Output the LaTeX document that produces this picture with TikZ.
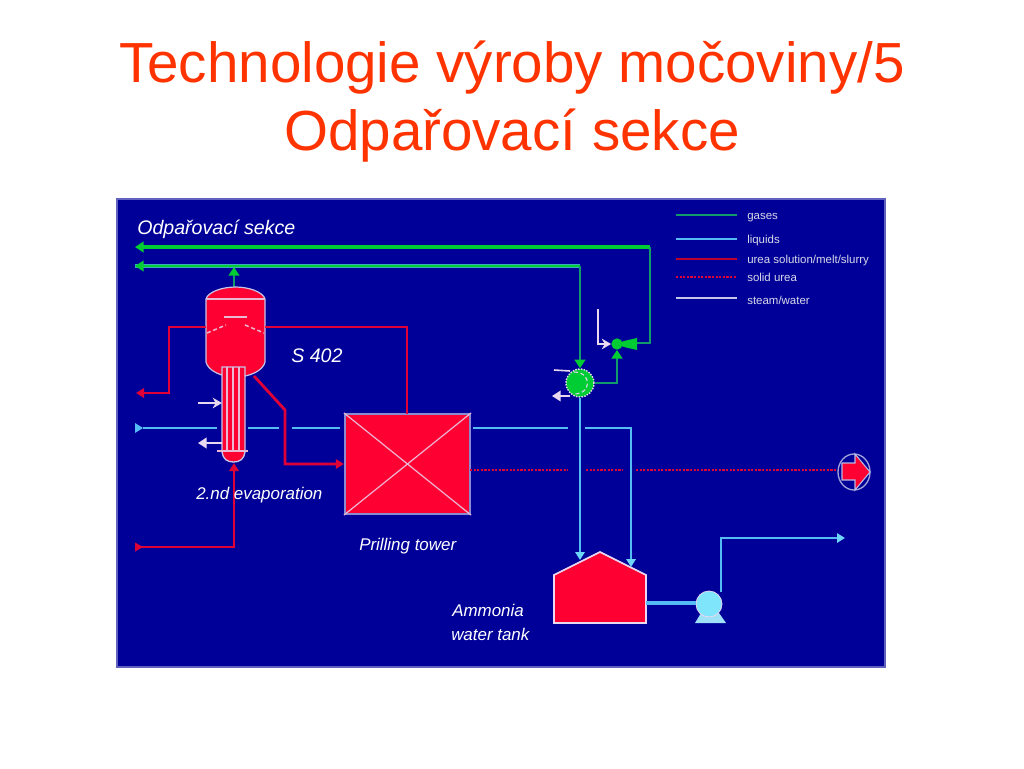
\documentclass[tikz,border=0pt]{standalone}
\usepackage{fontspec}
\setmainfont{Liberation Sans}
\usetikzlibrary{arrows.meta,shapes.geometric}
\definecolor{panelblue}{HTML}{000099}
\definecolor{titlered}{HTML}{FF3300}
\definecolor{fillred}{HTML}{FF0033}
\definecolor{linered}{HTML}{E00038}
\definecolor{liquidblue}{HTML}{55BBF5}
\definecolor{pumpcyan}{HTML}{7FE5FA}
\definecolor{gasgreen}{HTML}{00CC33}
\definecolor{gasteal}{HTML}{119A6A}
\definecolor{steamwhite}{HTML}{E8D8F0}
\definecolor{edgeblue}{HTML}{8A8AD0}
\definecolor{legendtext}{HTML}{D8D8E8}
\tikzset{
  titletext/.style={text=titlered,font=\fontsize{42.4}{42.4}\selectfont,anchor=base,inner sep=0pt},
  label/.style={text=white,font=\itshape\fontsize{12.7}{12.7}\selectfont,anchor=base west,inner sep=0pt},
  biglabel/.style={label,font=\itshape\fontsize{14.7}{14.7}\selectfont},
  legendlabel/.style={text=legendtext,font=\fontsize{8.6}{8.6}\selectfont,anchor=base west,inner sep=0pt},
  gasthick/.style={draw=gasgreen,line width=2.5pt},
  gasthin/.style={draw=gasteal,line width=1.7pt},
  liquid/.style={draw=liquidblue,line width=2pt},
  urea/.style={draw=linered,line width=2.1pt},
  solidurea/.style={draw=linered,line width=1.1pt,dash pattern=on 1.6pt off 1.1pt},
  steam/.style={draw=steamwhite,line width=1.6pt},
  inner/.style={draw=steamwhite!85!fillred,line width=1.1pt},
  tipG/.style={-{Triangle[length=6.5pt,width=8pt,fill=gasgreen,color=gasgreen]}},
  tipL/.style={-{Triangle[length=6pt,width=7pt,fill=pumpcyan!60!liquidblue,color=pumpcyan!60!liquidblue]}},
  tipR/.style={-{Triangle[length=6pt,width=7pt,fill=linered,color=linered]}},
  tipS/.style={-{Triangle[length=6.5pt,width=8pt,fill=steamwhite,color=steamwhite]}},
  tipOpen/.style={-{Stealth[length=7pt,width=8pt,color=steamwhite]}},
  towerbox/.style={rectangle,draw=edgeblue,fill=fillred,line width=1.6pt,minimum width=93.75pt,minimum height=75pt,inner sep=0pt},
  coolercirc/.style={circle,draw=steamwhite,densely dotted,fill=gasgreen,line width=1.1pt,minimum size=21pt,inner sep=0pt},
  valvebody/.style={circle,fill=gasgreen,minimum size=8.5pt,inner sep=0pt},
  pumpcirc/.style={circle,fill=pumpcyan,draw=steamwhite,line width=.6pt,minimum size=19.5pt,inner sep=0pt},
  exitell/.style={ellipse,draw=edgeblue!80!white,fill=panelblue,line width=1pt,minimum width=24pt,minimum height=27pt,inner sep=0pt},
}
\begin{document}
\begin{tikzpicture}[x=0.75pt,y=-0.75pt]
\useasboundingbox (0,0) rectangle (1024,768);
\fill[white] (0,0) rectangle (1024,768);
\node[titletext] (title1) at (512,82) {Technologie výroby močoviny/5};
\node[titletext] (title2) at (512,150) {Odpařovací sekce};
\draw[fill=panelblue,draw=edgeblue!70!panelblue,line width=.8pt] (117,199) rectangle (885,667);

% named points
\coordinate (gasEndA) at (135,247);
\coordinate (gasEndB) at (135,266);
\coordinate (gasCorA) at (650,247);
\coordinate (gasCorB) at (650,343);
\coordinate (gasCorC) at (580,266);
\coordinate (vesselTop) at (234,287);
\coordinate (vesselOut) at (234,267);

% gas lines
\draw[gasthin,tipG] (vesselTop) -- (vesselOut);
\draw[gasthick,tipG] (gasCorA) -- (gasEndA);
\draw[draw=liquidblue!60!gasteal,line width=2.4pt] (gasCorC) -- (gasEndB);
\draw[gasgreen,line width=1.3pt,tipG] (gasCorC) -- (gasEndB);
\draw[gasthin] (gasCorA) -- (gasCorB) -- (637,343);

% vessel S 402
\path[fill=fillred,draw=edgeblue!50!white,line width=.9pt] (206,299) .. controls (208,292) and (222,287) .. (235.5,287) .. controls (249,287) and (263,292) .. (265,299) -- (265,362) .. controls (263,371) and (249,377) .. (235.5,377) .. controls (222,377) and (208,371) .. (206,362) -- cycle;
\draw[inner] (206,299) -- (265,299);
\draw[inner] (224,317) -- (247,317);
\draw[inner,densely dashed] (207,333) -- (226,325);
\draw[inner,densely dashed] (245,325) -- (264,333);
\coordinate (vesselL) at (206,327);
\coordinate (vesselR) at (265,327);
\coordinate (vesselB) at (254,376);

% tube bundle
\path[fill=fillred,draw=edgeblue!50!white,line width=1pt] (222,367) -- (245,367) -- (245,452) .. controls (244,459) and (240,462) .. (233.5,462) .. controls (227,462) and (223,459) .. (222,452) -- cycle;
\foreach \tx in {227,233,239} \draw[inner] (\tx,367) -- (\tx,451);
\draw[inner] (217,451) -- (248,451);
\coordinate (tubeBottom) at (234,463);

% towers and other nodes
\node[towerbox] (tower) at (407.5,464) {};
\draw[inner,line width=.9pt] (tower.north west) -- (tower.south east);
\draw[inner,line width=.9pt] (tower.north east) -- (tower.south west);

% urea lines
\coordinate (ureaOutL) at (136,393);
\coordinate (ureaInB) at (136,547);
\draw[urea,tipR] (vesselL) -- (169,327) -- (169,393) -- (ureaOutL);
\draw[urea] (vesselR) -- (407,327) -- (407,414);
\draw[urea,tipR] (vesselB) -- (285,410) -- (285,464) -- (tower.west |- 0,464);
\draw[urea,tipR] (ureaInB) ++(5,0) -- (234,547) -- (tubeBottom);
\fill[linered] (ureaInB) ++(7,0) -- ++(-8,-4.5) -- ++(0,9) -- cycle;

% liquid line with gaps
\coordinate (liqStart) at (135,428);
\draw[liquid] (143,428) -- (217,428);
\fill[liquidblue] (143,428) -- (135,423) -- (135,433) -- cycle;
\draw[liquid] (248,428) -- (279,428);
\draw[liquid] (292,428) -- (340,428);
\draw[liquid] (473,428) -- (568,428);

% steam at tube
\coordinate (stA) at (198,403); \coordinate (stB) at (222,403);
\coordinate (stC) at (222,443); \coordinate (stD) at (198,443);
\draw[steam,tipOpen] (stA) -- (stB);
\draw[steam,tipS] (stC) -- (stD);

% solid urea
\draw[solidurea] (470,470) -- (568,470);
\draw[solidurea] (586,470) -- (623,470);
\draw[solidurea] (636,470) -- (840,470);

% cooler and valve
\node[coolercirc] (cooler) at (580,383) {};
\draw[steamwhite,line width=.8pt,densely dashed] (574,372) .. controls (592,372) and (592,394) .. (574,394);
\node[valvebody] (valve) at (617,344) {};
\fill[gasgreen] (617,344) -- (624,341) -- (637,338) -- (637,350) -- (624,347) -- cycle;
\draw[gasthin,tipG] (gasCorC) -- (cooler.north);
\draw[gasthin,tipG] (cooler.east |- 0,383) -- (617,383) -- (valve.south);
\coordinate (vsA) at (598,309); \coordinate (vsB) at (598,344);
\draw[steam,tipOpen] (vsA) -- (vsB) -- (valve.west);
\coordinate (cA) at (554,370); \coordinate (cB) at (570,371);
\coordinate (cC) at (570,396); \coordinate (cD) at (552,396);
\draw[steam,line width=1.2pt] (cA) -- (cB);
\draw[steam,line width=1.2pt,tipS] (cC) -- (cD);

% tank
\path[fill=fillred,draw=steamwhite,line width=1.2pt] (554,575) -- (600,552) -- (646,575) -- (646,623) -- (554,623) -- cycle;
\coordinate (tankA) at (580,560);
\coordinate (tankB) at (631,567);
\coordinate (tankR) at (646,603);
\draw[liquid,tipL] (cooler.south) -- (tankA);
\draw[liquid,tipL] (585,428) -- (631,428) -- (tankB);

% pump
\path[fill=pumpcyan!70!steamwhite] (695,623) -- (701,613) -- (719,613) -- (726,623) -- cycle;
\node[pumpcirc] (pump) at (709,604) {};
\coordinate (pumpOut) at (721,592);
\coordinate (liqEnd) at (845,538);
\draw[liquid,line width=2.4pt] (tankR) -- (pump.west |- 0,603);
\draw[liquid,tipL] (pumpOut) -- (721,538) -- (liqEnd);

% exit arrow
\node[exitell] (exit) at (854,472) {};
\path[fill=fillred,draw=edgeblue!60!white,line width=.8pt] (842,463) -- (855,463) -- (855,454) -- (870,472) -- (855,490) -- (855,480) -- (842,480) -- cycle;

% labels
\node[biglabel] (lab1) at (137,234) {Odpařovací sekce};
\node[biglabel] (lab2) at (291,362) {S 402};
\node[label] (lab3) at (196,499) {2.nd evaporation};
\node[label] (lab4) at (359,550) {Prilling tower};
\node[label] (lab5) at (452,616) {Ammonia};
\node[label] (lab6) at (451,640) {water tank};

% legend
\coordinate (lgA1) at (676,215); \coordinate (lgA2) at (737,215);
\coordinate (lgB1) at (676,239); \coordinate (lgB2) at (737,239);
\coordinate (lgC1) at (676,259); \coordinate (lgC2) at (737,259);
\coordinate (lgD1) at (676,277); \coordinate (lgD2) at (737,277);
\coordinate (lgE1) at (676,298); \coordinate (lgE2) at (737,298);
\draw[gasteal,line width=1.2pt] (lgA1) -- (lgA2);
\draw[liquidblue,line width=1.2pt] (lgB1) -- (lgB2);
\draw[linered!85!black,line width=1.2pt] (lgC1) -- (lgC2);
\draw[solidurea] (lgD1) -- (lgD2);
\draw[edgeblue!50!white,line width=1.8pt] (lgE1) -- (lgE2);
\node[legendlabel] (lgt1) at (747,219.5) {gases};
\node[legendlabel] (lgt2) at (747,243.5) {liquids};
\node[legendlabel] (lgt3) at (747,263) {urea solution/melt/slurry};
\node[legendlabel] (lgt4) at (747,281) {solid urea};
\node[legendlabel] (lgt5) at (747,304) {steam/water};
\end{tikzpicture}
\end{document}
